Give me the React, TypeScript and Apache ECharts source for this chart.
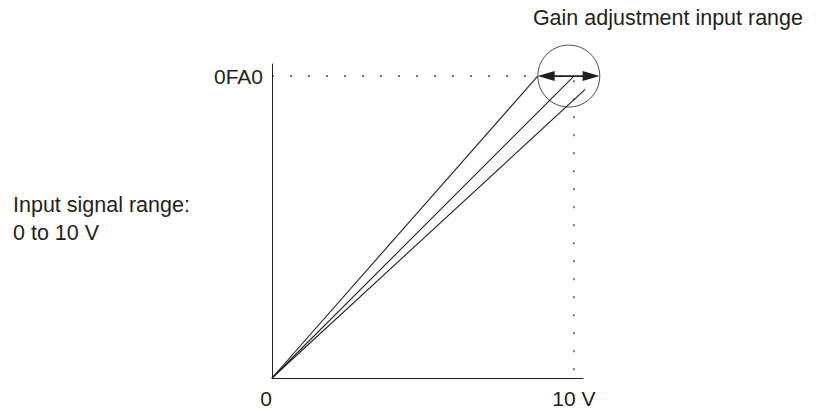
import React, { useEffect, useRef } from "react";
import * as echarts from "echarts";

// ---- data ----
const xTickValues = [0, 10];
const xTickLabels = ["0", "10 V"];
const yTickValues = [4000];
const yTickLabels = ["0FA0"];
const fullScale = 4000; // 0FA0
const rangeVolts = 10;
const gainLineEnds = [8.8, 10, 10.85]; // x reached at full scale by each gain line
const circleCenter = [9.83, 4000];
const titleText = "Gain adjustment input range";
const inputText = "Input signal range:\n0 to 10 V";

const INK = "#231f20";
const FONT = "'Liberation Sans', Arial, Helvetica, sans-serif";

export default function App() {
  const ref = useRef<HTMLDivElement>(null);
  useEffect(() => {
    if (!ref.current) return;
    const chart = echarts.init(ref.current, undefined, { renderer: "svg" });
    const labelFor = (vals: number[], labels: string[]) => (v: number) => {
      const i = vals.indexOf(v);
      return i >= 0 ? labels[i] : "";
    };
    const arrowStart = gainLineEnds[0];
    const arrowEnd = gainLineEnds[gainLineEnds.length - 1];
    chart.setOption({
      animation: false,
      backgroundColor: "#ffffff",
      grid: {
        left: 272,
        top: 64,
        width: 311,
        height: 314,
        containLabel: false,
        outerBoundsMode: "none",
      },
      xAxis: {
        type: "value",
        min: 0,
        max: 10.3,
        splitLine: { show: false },
        axisTick: { show: false },
        axisLine: { show: true, onZero: false, lineStyle: { color: INK, width: 1 } },
        axisLabel: {
          customValues: xTickValues,
          formatter: labelFor(xTickValues, xTickLabels),
          color: INK,
          fontFamily: FONT,
          fontSize: 21,
          lineHeight: 21,
          margin: 10,
          alignMinLabel: "right",
        },
      },
      yAxis: {
        type: "value",
        min: 0,
        max: 4160,
        splitLine: { show: false },
        axisTick: { show: false },
        axisLine: { show: true, onZero: false, lineStyle: { color: INK, width: 1 } },
        axisLabel: {
          customValues: yTickValues,
          formatter: labelFor(yTickValues, yTickLabels),
          color: INK,
          fontFamily: FONT,
          fontSize: 21,
          lineHeight: 21,
          margin: 9,
          padding: [8, 0, 0, 0],
        },
      },
      graphic: [
        {
          type: "text",
          x: 803,
          y: 18,
          style: {
            text: titleText,
            fill: INK,
            font: `21.5px ${FONT}`,
            textAlign: "right",
            textVerticalAlign: "middle",
          },
        },
        {
          type: "text",
          x: 13,
          y: 190.5,
          style: {
            text: inputText,
            fill: INK,
            font: `21.5px ${FONT}`,
            lineHeight: 28,
            textAlign: "left",
            textVerticalAlign: "top",
          },
        },
      ],
      series: [
        {
          type: "line",
          data: [
            [0, fullScale],
            [rangeVolts, fullScale],
            [rangeVolts, 0],
          ],
          symbol: "none",
          lineStyle: { color: INK, width: 1.2, type: [2, 16] },
          z: 1,
          silent: true,
        },
        ...gainLineEnds.map((x) => ({
          type: "line",
          data: [
            [0, 0],
            [x, fullScale],
          ],
          symbol: "none",
          clip: false,
          lineStyle: { color: INK, width: 1.1 },
          z: 2,
          silent: true,
        })),
        {
          type: "line",
          clip: false,
          silent: true,
          showSymbol: true,
          symbol: "triangle",
          symbolSize: [10, 17],
          symbolKeepAspect: false,
          itemStyle: { color: INK, borderWidth: 0 },
          lineStyle: { color: INK, width: 1.6 },
          data: [
            { value: [arrowStart + 0.28, fullScale], symbolRotate: 90 },
            { value: [arrowEnd - 0.28, fullScale], symbolRotate: -90 },
          ],
          z: 4,
        },
        {
          type: "scatter",
          data: [circleCenter],
          symbol: "circle",
          symbolSize: 62,
          clip: false,
          itemStyle: { color: "rgba(0,0,0,0)", borderColor: INK, borderWidth: 1 },
          z: 3,
          silent: true,
        },
      ],
    });
    return () => chart.dispose();
  }, []);
  return (
    <div
      ref={ref}
      style={{ position: "fixed", left: 0, top: 0, width: 816, height: 411, background: "#fff" }}
    />
  );
}
